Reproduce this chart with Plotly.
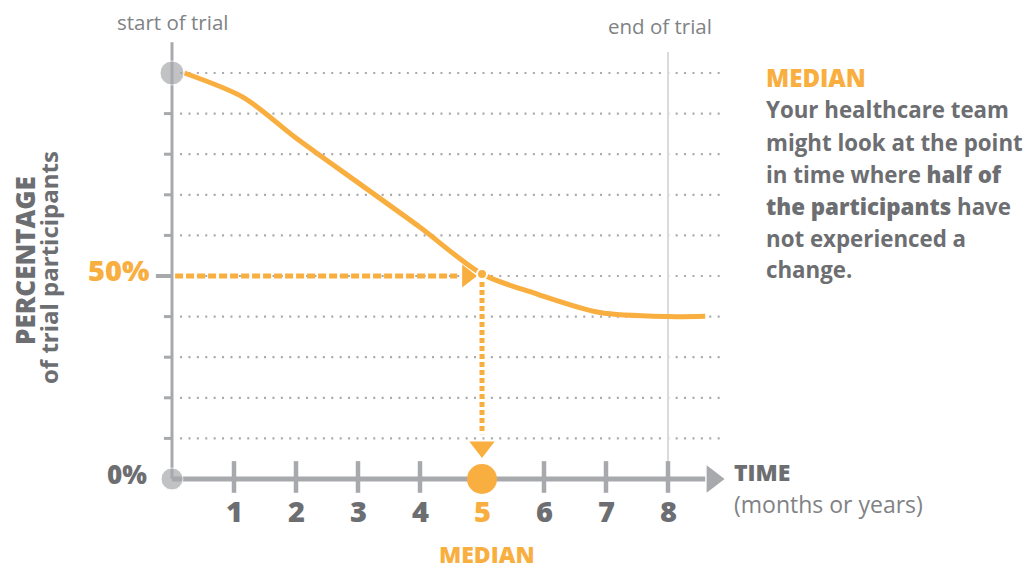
import plotly.graph_objects as go

# curve (time units, % of participants)
time_pts = [0.2, 1.15, 2, 3, 4, 5, 5.9, 6.9, 8, 8.6]
pct_pts = [100, 94, 84, 73, 62, 50.5, 45.5, 41, 40, 40.1]

grid_levels = [10, 20, 30, 40, 50, 60, 70, 80, 90, 100]
time_ticks = [1, 2, 3, 4, 5, 6, 7, 8]
tick_labels = ["1", "2", "3", "4", "5", "6", "7", "8"]

median_time = 5
median_pct = 50
end_time = 8

note_title = "MEDIAN"
note_lines = [
    "Your healthcare team",
    "might look at the point",
    "in time where <span style='font-weight:800'>half of</span>",
    "<span style='font-weight:800'>the participants</span> have",
    "not experienced a",
    "change.",
]

ORANGE = "#F9AE40"
GRAY = "#A7A9AC"
DARK = "#6D6E71"
MID = "#808285"
LIGHT = "#D9DADB"
FONT = "Open Sans"

# page body adds an 8px margin, so the figure is drawn 8px smaller and shifted
OFF = 8
W, H = 1035 - OFF, 570 - OFF
X0, XS = 172 - OFF, 62.0   # pixel of time 0, pixels per time unit
Y0, YS = 479 - OFF, 4.06   # pixel of 0 %, pixels per percent


def fx(p):
    return (p - OFF) / W


def fy(p):
    return 1 - (p - OFF) / H


fig = go.Figure()

shapes = []
for lvl in grid_levels:
    shapes.append(dict(type="line", xref="x", yref="y", x0=0.13, x1=8.85, y0=lvl, y1=lvl,
                       line=dict(color=GRAY, width=2.2, dash="2px,6.4px"), layer="below"))
# end of trial line
shapes.append(dict(type="line", xref="x", yref="y", x0=end_time, x1=end_time, y0=0, y1=105.2,
                   line=dict(color=LIGHT, width=2), layer="below"))
# y axis
shapes.append(dict(type="line", xref="x", yref="y", x0=0, x1=0, y0=0, y1=107.6,
                   line=dict(color=GRAY, width=3), layer="below"))
for lvl in grid_levels[:-1]:
    if lvl == median_pct:
        shapes.append(dict(type="line", xref="x", yref="y", x0=-0.26, x1=0, y0=lvl, y1=lvl,
                           line=dict(color=GRAY, width=4), layer="below"))
    else:
        shapes.append(dict(type="line", xref="x", yref="y", x0=-0.13, x1=0, y0=lvl, y1=lvl,
                           line=dict(color=GRAY, width=3), layer="below"))
# x axis
shapes.append(dict(type="line", xref="x", yref="y", x0=0, x1=8.6, y0=0, y1=0,
                   line=dict(color=GRAY, width=5), layer="below"))
for t in time_ticks:
    if t == median_time:
        continue
    shapes.append(dict(type="line", xref="x", yref="y", x0=t, x1=t, y0=-3.4, y1=4.4,
                       line=dict(color=GRAY, width=4.5), layer="below"))

# survival curve
fig.add_trace(go.Scatter(x=time_pts, y=pct_pts, mode="lines",
                         line=dict(color=ORANGE, width=5, shape="spline", smoothing=0.8),
                         hoverinfo="skip"))

# dotted guides to the median
fig.add_trace(go.Scatter(x=[0.05, 4.6], y=[median_pct, median_pct], mode="lines",
                         line=dict(color=ORANGE, width=5, dash="8px,3px"), hoverinfo="skip"))
fig.add_trace(go.Scatter(x=[median_time, median_time], y=[48.5, 11], mode="lines",
                         line=dict(color=ORANGE, width=5, dash="5px,3px"), hoverinfo="skip"))
fig.add_trace(go.Scatter(x=[4.76], y=[median_pct], mode="markers",
                         marker=dict(symbol="triangle-right", size=20, color=ORANGE), hoverinfo="skip"))
fig.add_trace(go.Scatter(x=[median_time], y=[7.9], mode="markers",
                         marker=dict(symbol="triangle-down", size=22, color=ORANGE), hoverinfo="skip"))
fig.add_trace(go.Scatter(x=[median_time], y=[50.5], mode="markers",
                         marker=dict(size=10, color=ORANGE, line=dict(color="white", width=2)),
                         hoverinfo="skip"))

# axis arrow head and dots
fig.add_trace(go.Scatter(x=[8.72], y=[0], mode="markers",
                         marker=dict(symbol="triangle-right", size=24, color=GRAY), hoverinfo="skip"))
fig.add_trace(go.Scatter(x=[0, 0], y=[0, 100], mode="markers",
                         marker=dict(size=[22, 24], color=GRAY), hoverinfo="skip"))
fig.add_trace(go.Scatter(x=[median_time], y=[0], mode="markers",
                         marker=dict(size=30, color=ORANGE), hoverinfo="skip"))

ann = []


def text(s, x, y, size, color, weight="normal", xanchor="center", angle=0):
    ann.append(dict(text=s, x=fx(x), y=fy(y), xref="paper", yref="paper", showarrow=False,
                    xanchor=xanchor, yanchor="middle", textangle=angle, borderpad=0,
                    font=dict(family=FONT, size=size, color=color, weight=weight)))


for t, lab in zip(time_ticks, tick_labels):
    col = ORANGE if t == median_time else DARK
    text(lab, 172 + t * XS, 510, 29, col, weight=800)

text("50%", 150, 270, 29, ORANGE, weight=800, xanchor="right")
text("0%", 148, 474, 26, DARK, weight=800, xanchor="right")
text("MEDIAN", 487, 554, 23, ORANGE, weight=800)
text("TIME", 733, 472, 23, DARK, weight=800, xanchor="left")
text("(months or years)", 733, 504, 23, MID, xanchor="left")
text("start of trial", 172, 22, 20.5, MID)
text("end of trial", 660, 26, 20.5, MID)
text("PERCENTAGE", 25, 261, 26, DARK, weight=800, angle=-90)
text("of trial participants", 48, 268, 24, DARK, weight=700, angle=-90)

text(note_title, 765, 77, 24, ORANGE, weight=800, xanchor="left")
for i, line in enumerate(note_lines):
    text(line, 765, 110 + 32 * i, 22.3, DARK, weight=700, xanchor="left")

fig.update_layout(
    width=W,
    height=H,
    margin=dict(l=0, r=0, t=0, b=0),
    paper_bgcolor="white",
    plot_bgcolor="white",
    showlegend=False,
    shapes=shapes,
    annotations=ann,
    xaxis=dict(range=[-X0 / XS, (W - X0) / XS], visible=False, fixedrange=True),
    yaxis=dict(range=[-(H - Y0) / YS, Y0 / YS], visible=False, fixedrange=True),
)

fig.write_html("out.html")
